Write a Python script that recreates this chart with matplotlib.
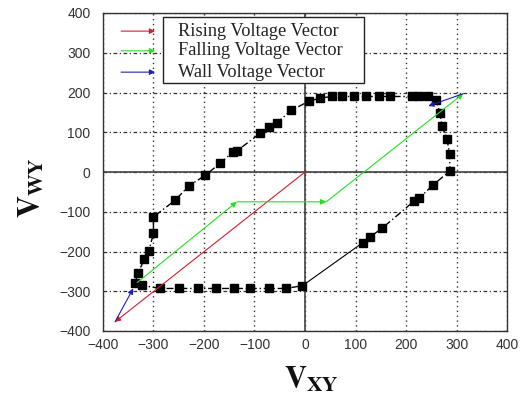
import numpy as np
import matplotlib
matplotlib.use("Agg")
import matplotlib.pyplot as plt
from matplotlib.patches import Rectangle

# Wall voltage loop (V_XY, V_WY)
loop_x = [114, 129, 152, 216, 226, 253, 287, 286, 281, 271, 267, 259, 244, 226, 211,
          168, 147, 121, 96, 73, 53, 30, 8, -28, -55, -71, -89, -134, -142, -168,
          -197, -230, -257, -300, -300, -309, -318, -331, -336, -323, -287, -249,
          -211, -177, -141, -108, -71, -38, -5]
loop_y = [-178, -163, -142, -73, -66, -33, 3, 45, 83, 115, 149, 181, 190, 190, 190,
          190, 190, 190, 190, 190, 190, 186, 178, 155, 124, 112, 97, 54, 51, 22,
          -8, -35, -71, -113, -154, -199, -220, -255, -280, -285, -293, -293,
          -293, -293, -293, -293, -293, -293, -286]

# vectors: (tail, tip)
rising = [((0, 0), (-376, -377))]
falling = [((-332, -278), (-135, -75)), ((-135, -75), (42, -75)), ((42, -75), (313, 197))]
wall = [((-376, -377), (-340, -293)), ((313, 197), (244, 166))]

legend_labels = ["Rising Voltage Vector", "Falling Voltage Vector", "Wall Voltage Vector"]
legend_colors = ["#d02030", "#22e022", "#2020b0"]
ticks = [-400, -300, -200, -100, 0, 100, 200, 300, 400]

plt.rcParams['mathtext.fontset'] = 'stix'

fig = plt.figure(figsize=(5.25, 4.0), dpi=100)
ax = fig.add_axes([0.196, 0.1725, 0.770, 0.795])

ax.set_xlim(-400, 400)
ax.set_ylim(-400, 400)
ax.set_xticks(ticks)
ax.set_yticks(ticks)
ax.tick_params(length=0, labelsize=10, labelcolor='#333333', pad=5)
ax.tick_params(axis='y', pad=9)
for lab in ax.get_xticklabels() + ax.get_yticklabels():
    lab.set_family('Liberation Sans')

# grid: dotted verticals, dash-dot horizontals
ax.grid(axis='x', color='#333333', linestyle=(0, (1, 2.5)), linewidth=1.0)
ax.grid(axis='y', color='#333333', linestyle=(0, (3, 2, 1, 2)), linewidth=0.9)
ax.axhline(0, color='#444444', linewidth=1.2)
ax.axvline(0, color='#444444', linewidth=1.2)
for sp in ax.spines.values():
    sp.set_color('#333333')
    sp.set_linewidth(1.0)

# loop
ax.plot([loop_x[-1], loop_x[0]], [loop_y[-1], loop_y[0]], color='black', linewidth=0.8)
ax.plot(loop_x, loop_y, color='black', linestyle=(0, (5, 2, 1, 2)), linewidth=1.0,
        marker='s', markersize=5.3, markerfacecolor='black', markeredgecolor='black')


def draw_arrow(tail, tip, color, coords='data'):
    ax.annotate('', xy=tip, xytext=tail, xycoords=coords, textcoords=coords,
                arrowprops=dict(arrowstyle='-|>', color=color, linewidth=0.8,
                                mutation_scale=8, shrinkA=0, shrinkB=0))


for tail, tip in rising:
    draw_arrow(tail, tip, legend_colors[0])
for tail, tip in falling:
    draw_arrow(tail, tip, legend_colors[1])
for tail, tip in wall:
    draw_arrow(tail, tip, legend_colors[2])

# legend drawn by hand: arrows outside the box, like the reference
ax.add_patch(Rectangle((0.149, 0.78), 0.497, 0.207, transform=ax.transAxes,
                       facecolor='white', edgecolor='#222222', linewidth=1.0, zorder=5))
leg_y = [0.943, 0.881, 0.814]
for lab, col, yy in zip(legend_labels, legend_colors, leg_y):
    ax.text(0.186, yy, lab, transform=ax.transAxes, va='center', ha='left',
            fontsize=13.2, family='Liberation Serif', color='#222222', zorder=6)
    draw_arrow((0.045, yy), (0.129, yy), col, coords='axes fraction')

ax.set_xlabel(r'$\mathbf{V}_{\mathbf{XY}}$', fontsize=22, color='#111111')
ax.xaxis.set_label_coords(0.515, -0.105)
ax.set_ylabel(r'$\mathbf{V}_{\mathbf{WY}}$', fontsize=22, color='#111111')
ax.yaxis.set_label_coords(-0.14, 0.45)

fig.savefig('out.png', dpi=100)
